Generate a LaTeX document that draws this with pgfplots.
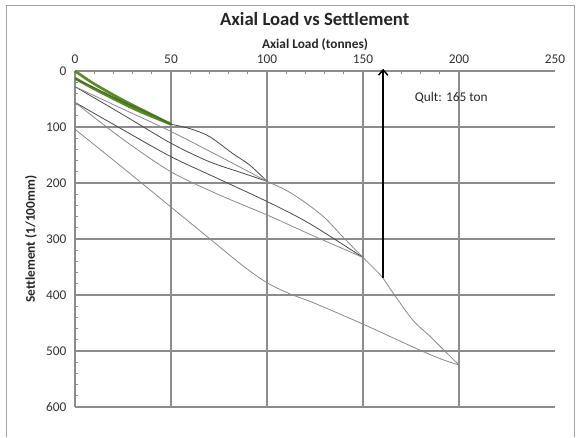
\documentclass[border=0pt]{standalone}
\usepackage{pgfplots}
\pgfplotsset{compat=1.18}
\usepackage{fontspec}
\setmainfont{Carlito}
\usetikzlibrary{arrows.meta}
\definecolor{gridc}{HTML}{8C8C8C}
\definecolor{darkln}{HTML}{4A4A4A}
\definecolor{grayln}{HTML}{8A8A8A}
\definecolor{greenln}{HTML}{5B8A2A}
\begin{document}
\begin{tikzpicture}
\path[use as bounding box] (0,0) rectangle (432.75pt,327.75pt);
\begin{axis}[
  at={(56.25pt,22.5pt)}, anchor=south west, scale only axis,
  width=360pt, height=252pt,
  xmin=0, xmax=250, ymin=0, ymax=600, y dir=reverse,
  xtick={0,50,...,200}, extra x ticks={250}, extra x tick style={grid=none},
  ytick={0,100,...,600},
  minor x tick num=4, minor y tick num=4,
  grid=major, major grid style={gridc, line width=1pt},
  axis line style={draw=none},
  xtick pos=right, xticklabel pos=right, ytick pos=left,
  tick align=inside,
  major tick length=0pt, minor tick length=2.5pt,
  minor tick style={gridc, line width=0.6pt},
  ticklabel style={font=\fontsize{10}{12}\selectfont, text=black!80},
  xticklabel style={yshift=2pt},
  yticklabel style={xshift=-3pt},
  /pgf/number format/assume math mode=true,
  clip=false,
]
% cycle 1 load (green)
\addplot[greenln, line width=2pt, smooth] coordinates {(0,0) (10,23) (25,52) (40,78) (50,95)};
% cycle 1 unload (green)
\addplot[greenln, line width=2pt, smooth] coordinates {(50,95) (35,74) (25,58) (10,32) (0,13)};
% cycle 2 reload (green)
\addplot[greenln!80!black, line width=1pt, smooth] coordinates {(0,13) (10,30) (25,55) (40,78) (50,95)};
% cycle 2 virgin
\addplot[darkln, line width=0.6pt, smooth] coordinates {(50,95) (60,103) (70,117) (82,147) (91,168) (100,197)};
% cycle 2 unload
\addplot[darkln, line width=0.6pt, smooth] coordinates {(100,197) (88,183) (70,162) (50,129) (25,78) (0,28)};
% cycle 3 reload
\addplot[grayln, line width=0.6pt, smooth] coordinates {(0,28) (25,68) (50,108) (75,152) (100,197)};
% cycle 3 virgin
\addplot[grayln, line width=0.6pt, smooth] coordinates {(100,197) (110,213) (120,235) (130,262) (140,298) (150,333)};
% cycle 3 unload
\addplot[darkln, line width=0.6pt, smooth] coordinates {(150,333) (122,272) (100,233) (75,193) (50,153) (25,105) (0,56)};
% cycle 4 reload
\addplot[grayln, line width=0.6pt, smooth] coordinates {(0,56) (25,122) (50,180) (75,221) (100,257) (122,291) (150,333)};
% cycle 4 virgin
\addplot[grayln, line width=0.6pt, smooth] coordinates {(150,333) (155,350) (160,368) (166,398) (176,445) (185,474) (192,498) (200,525)};
% cycle 4 unload
\addplot[grayln, line width=0.6pt, smooth] coordinates {(200,525) (192,516) (180,499) (150,452) (125,415) (112,398) (100,378) (87.5,348) (70,299) (50,243) (25,173) (0,104)};
% Qult arrow
\draw[black, line width=1.1pt, -{Straight Barb[length=4pt,width=7pt]}] (axis cs:160.5,370) -- (axis cs:160.5,-4);
\node[font=\fontsize{10}{12}\selectfont, text=black!85] at (axis cs:196,48) {Qult: 165 ton};
\end{axis}
\node[font=\bfseries\fontsize{14}{16}\selectfont, text=black!85] at (236pt,313.5pt) {Axial Load vs Settlement};
\node[font=\bfseries\fontsize{10}{12}\selectfont, text=black!85] at (236.25pt,294pt) {Axial Load (tonnes)};
\node[font=\bfseries\fontsize{10}{12}\selectfont, text=black!85, rotate=90] at (23.25pt,148.5pt) {Settlement (1/100mm)};
\draw[gridc!80, line width=0.75pt] (4.5pt,0) -- (4.5pt,324pt) -- (430.5pt,324pt) -- (430.5pt,0);
\end{tikzpicture}
\end{document}
